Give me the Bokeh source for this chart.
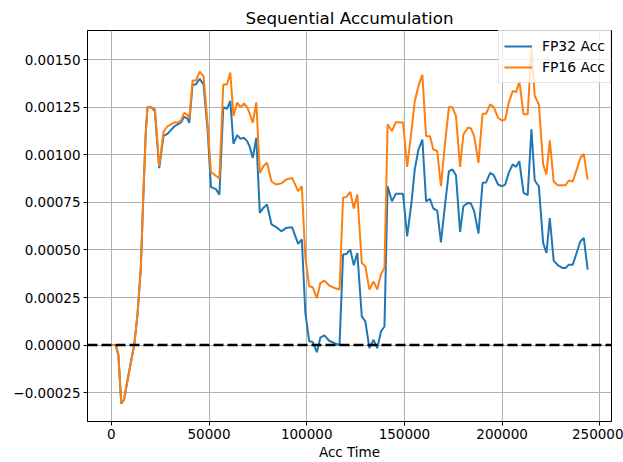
from bokeh.plotting import figure
from bokeh.models import Range1d, FixedTicker, CustomJSTickFormatter, Span
from bokeh.embed import file_html
from bokeh.resources import INLINE

# ---- data ----
acc_time = [
    0, 2300, 3600, 5100, 6500, 8200, 9900, 11700, 13400, 15100,
    16400, 17600, 18500, 20500, 22300, 24500, 26700, 28700, 30500, 32300,
    34000, 35600, 37300, 39000, 39900, 41600, 43300, 45200, 47200, 49300,
    51000, 53500, 55300, 57300, 59200, 60900, 62500, 64400, 66100, 67800,
    69500, 70700, 72400, 74200, 76000, 77800, 79700, 82000, 84400, 87000,
    89500, 92500, 95600, 97500, 99300, 101300, 103100, 105200, 107000, 109000,
    111500, 114300, 116800, 118600, 120400, 122300, 124100, 125900, 128200, 130000,
    132100, 134200, 136100, 138000, 139800, 141400, 143600, 145600, 147500, 149300,
    151400, 153600, 155300, 157200, 159200, 161100, 163100, 164800, 166800, 168700,
    170800, 172800, 174600, 176400, 178500, 180200, 182400, 184000, 185700, 187900,
    190000, 191800, 193900, 195700, 197900, 200000, 201600, 203400, 205400, 207200,
    208800, 211000, 213100, 215000, 216700, 218800, 221000, 222700, 224400, 226400,
    228500, 231000, 232500, 234100, 236200, 238400, 240100, 241800, 243800,
]

fp32_acc = [
    0.0, 0.0, -0.00005, -0.000308, -0.000287, -0.00019, -0.000095, 0.0, 0.00016, 0.000405,
    0.00079, 0.00111, 0.00125, 0.00125, 0.00123, 0.00093, 0.0011, 0.00111, 0.00113, 0.00115,
    0.00116, 0.00117, 0.0012, 0.00119, 0.001168, 0.00137, 0.00137, 0.0014, 0.00137, 0.00113,
    0.00083, 0.00082, 0.00079, 0.00125, 0.001242, 0.001283, 0.001058, 0.001104, 0.001084, 0.00109,
    0.001072, 0.001046, 0.000984, 0.00109, 0.000695, 0.000721, 0.000739, 0.000634, 0.00062, 0.000598,
    0.000616, 0.00062, 0.000532, 0.000555, 0.00017, 0.00002, 0.000016, -0.000037, 0.00004, 0.000051,
    0.000023, 0.00001, 0.0, 0.000476, 0.000479, 0.000502, 0.00042, 0.000484, 0.000151, 0.000125,
    -0.000016, 0.000028, -0.000016, 0.000072, 0.000098, 0.000835, 0.000756, 0.000795, 0.000795, 0.000795,
    0.000572, 0.000747, 0.000923, 0.001028, 0.00108, 0.000756, 0.000768, 0.000718, 0.000707, 0.00054,
    0.000739, 0.000914, 0.000923, 0.000893, 0.000595, 0.00073, 0.000747, 0.000745, 0.000704, 0.000586,
    0.000853, 0.000855, 0.000905, 0.000893, 0.000844, 0.000835, 0.000844, 0.000905, 0.00095, 0.000937,
    0.000967, 0.0008, 0.000788, 0.001134, 0.000865, 0.000835, 0.000537, 0.000484, 0.000668, 0.000444,
    0.00042, 0.000405, 0.000405, 0.000423, 0.000423, 0.000493, 0.000546, 0.000563, 0.000397,
]

fp16_acc = [
    0.0, 0.0, -0.00005, -0.000305, -0.000285, -0.00019, -0.0001, 0.0, 0.00016, 0.000405,
    0.00079, 0.00111, 0.00125, 0.00125, 0.00124, 0.00094, 0.00112, 0.00115, 0.00116, 0.00117,
    0.00117, 0.00118, 0.00122, 0.00121, 0.00119, 0.00139, 0.00139, 0.001437, 0.001414, 0.00116,
    0.00091, 0.00089, 0.000876, 0.00137, 0.00137, 0.001432, 0.001204, 0.001274, 0.001251, 0.00127,
    0.001251, 0.001221, 0.001168, 0.001276, 0.000905, 0.00094, 0.000958, 0.00086, 0.000844, 0.00085,
    0.00087, 0.000879, 0.000809, 0.000835, 0.00046, 0.000309, 0.000304, 0.000247, 0.000326, 0.000339,
    0.000313, 0.0003, 0.000292, 0.000774, 0.000779, 0.000805, 0.000718, 0.000792, 0.000432, 0.000414,
    0.000292, 0.000335, 0.000292, 0.000374, 0.000405, 0.00116, 0.001125, 0.001172, 0.00117, 0.00117,
    0.000937, 0.001125, 0.001283, 0.001362, 0.00142, 0.001098, 0.001098, 0.001028, 0.00102, 0.000835,
    0.001063, 0.001251, 0.00125, 0.001204, 0.000937, 0.001107, 0.001142, 0.00114, 0.001098, 0.000958,
    0.001216, 0.001216, 0.001265, 0.001251, 0.001195, 0.00118, 0.001186, 0.001274, 0.001335, 0.00133,
    0.001388, 0.001213, 0.001213, 0.00156, 0.001309, 0.001265, 0.00095, 0.000897, 0.001076, 0.00086,
    0.00084, 0.00084, 0.00084, 0.000865, 0.00086, 0.00093, 0.000984, 0.001005, 0.00087,
]

series_labels = ["FP32 Acc", "FP16 Acc"]
x_ticks = [0, 50000, 100000, 150000, 200000, 250000]
y_ticks = [-0.00025, 0.0, 0.00025, 0.0005, 0.00075, 0.001, 0.00125, 0.0015]
title_text = "Sequential Accumulation"
x_label = "Acc Time"

FONT = "DejaVu Sans"

# 5% padding like matplotlib autoscale
xmin, xmax = min(acc_time), max(acc_time)
allv = fp32_acc + fp16_acc
ymin, ymax = min(allv), max(allv)
xpad = 0.05 * (xmax - xmin)
ypad = 0.05 * (ymax - ymin)

p = figure(
    width=623, height=462,
    output_backend="svg", toolbar_location=None,
    x_range=Range1d(xmin - xpad, xmax + xpad),
    y_range=Range1d(ymin - ypad, ymax + ypad),
    title=title_text,
    min_border_left=87, min_border_right=12,
    min_border_top=30, min_border_bottom=41,
)

p.background_fill_color = "white"
p.border_fill_color = "white"
p.outline_line_color = "black"
p.outline_line_width = 1
p.outline_line_alpha = 1

p.title.text_font = FONT
p.title.text_font_size = "16.7px"
p.title.text_font_style = "normal"
p.title.text_color = "black"
p.title.align = "center"
p.title.standoff = 6

for ax in (p.xaxis[0], p.yaxis[0]):
    ax.axis_line_color = "black"
    ax.major_tick_line_color = "black"
    ax.major_tick_out = 4
    ax.major_tick_in = 0
    ax.minor_tick_line_color = None
    ax.major_label_text_font = FONT
    ax.major_label_text_font_size = "13.5px"
    ax.major_label_text_color = "black"
    ax.major_label_standoff = 3

p.xaxis[0].ticker = FixedTicker(ticks=x_ticks)
p.xaxis[0].formatter = CustomJSTickFormatter(code="return tick.toFixed(0);")
p.xaxis[0].axis_label = x_label
p.xaxis[0].axis_label_text_font = FONT
p.xaxis[0].axis_label_text_font_size = "13.5px"
p.xaxis[0].axis_label_text_font_style = "normal"
p.xaxis[0].axis_label_text_color = "black"
p.xaxis[0].axis_label_standoff = 2

p.yaxis[0].ticker = FixedTicker(ticks=y_ticks)
p.yaxis[0].formatter = CustomJSTickFormatter(
    code="var s = Math.abs(tick).toFixed(5); return (tick < -1e-12 ? '\u2212' : '') + s;")

p.xgrid.grid_line_color = "#b0b0b0"
p.ygrid.grid_line_color = "#b0b0b0"
p.xgrid.grid_line_width = 1
p.ygrid.grid_line_width = 1

p.line(acc_time, fp32_acc, line_color="#1f77b4", line_width=2, legend_label=series_labels[0])
p.line(acc_time, fp16_acc, line_color="#ff7f0e", line_width=2, legend_label=series_labels[1])

zero = Span(location=0, dimension="width", line_color="black",
            line_width=2.5, line_dash="10 4")
p.add_layout(zero)

lg = p.legend[0]
lg.location = "top_right"
lg.margin = 0
lg.padding = 5
lg.spacing = 1
lg.label_text_font = FONT
lg.label_text_font_size = "13.9px"
lg.label_text_color = "black"
lg.glyph_width = 28
lg.glyph_height = 20
lg.label_standoff = 10
lg.border_line_color = "#cccccc"
lg.border_line_width = 1
lg.background_fill_color = "white"
lg.background_fill_alpha = 0.8

open("out.html", "w").write(file_html(p, INLINE))
